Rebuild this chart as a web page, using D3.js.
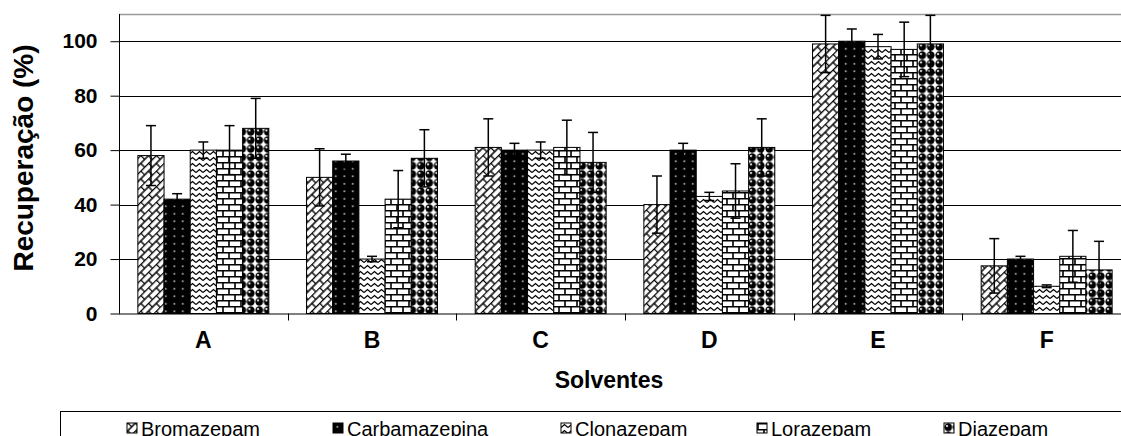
<!DOCTYPE html>
<html>
<head>
<meta charset="utf-8">
<script src="https://cdn.jsdelivr.net/npm/d3@7"></script>
<style>
    body { margin: 0; background: #fff; }
    svg { display: block; font-family: "Liberation Sans", Arial, sans-serif; }
</style>
</head>
<body>
<div id="chart"></div>
<script>
const categories = ["A", "B", "C", "D", "E", "F"];
const series = ["Bromazepam", "Carbamazepina", "Clonazepam", "Lorazepam", "Diazepam"];

// mean recovery per solvent, one array per drug
const bromazepam = [58, 50, 61, 40, 99, 17.5];
const carbamazepina = [42, 56, 60, 60, 100, 20];
const clonazepam = [60, 20, 60, 43, 98, 10];
const lorazepam = [60, 42, 61, 45, 97, 21];
const diazepam = [68, 57, 55.5, 61, 99, 16];

// standard deviations
const bromazepamErr = [11, 10.5, 10.5, 10.5, 10.5, 10];
const carbamazepinaErr = [2, 2.5, 2.5, 2.5, 4.5, 1];
const clonazepamErr = [3, 1, 3, 1.5, 4.5, 0.5];
const lorazepamErr = [9, 10.5, 10, 10, 10, 9.5];
const diazepamErr = [11, 10.5, 11, 10.5, 10.5, 10.5];

const yTicks = [0, 20, 40, 60, 80, 100];

const values = [bromazepam, carbamazepina, clonazepam, lorazepam, diazepam];
const errors = [bromazepamErr, carbamazepinaErr, clonazepamErr, lorazepamErr, diazepamErr];

const W = 1121, H = 436;
const plot = {left: 119, right: 1131, top: 14, bottom: 313.5};

let svg = d3.select("#chart").append("svg")
    .attr("width", W)
    .attr("height", H);

// fill patterns
let defs = svg.append("defs");

let p0 = defs.append("pattern").attr("id", "pat0")
    .attr("patternUnits", "userSpaceOnUse")
    .attr("width", 11).attr("height", 11)
    .attr("patternTransform", "rotate(-45)");
p0.append("rect").attr("width", 11).attr("height", 11).attr("fill", "#fff");
p0.append("path")
    .attr("d", "M0,0.5H11M0,6H11M0.5,0V5.5M6,5.5V11")
    .attr("stroke", "#000").attr("stroke-width", 1.4).attr("fill", "none");

let p1 = defs.append("pattern").attr("id", "pat1")
    .attr("patternUnits", "userSpaceOnUse")
    .attr("width", 8.5).attr("height", 7.5);
p1.append("rect").attr("width", 8.5).attr("height", 7.5).attr("fill", "#000");
p1.append("rect").attr("x", 3.5).attr("y", 3).attr("width", 1.6).attr("height", 1.6).attr("fill", "#ccc");

let p2 = defs.append("pattern").attr("id", "pat2")
    .attr("patternUnits", "userSpaceOnUse")
    .attr("width", 7).attr("height", 6);
p2.append("rect").attr("width", 7).attr("height", 6).attr("fill", "#fff");
p2.append("path")
    .attr("d", "M0,4.5L3.5,1.5L7,4.5")
    .attr("stroke", "#000").attr("stroke-width", 1.3).attr("fill", "none");

let p3 = defs.append("pattern").attr("id", "pat3")
    .attr("patternUnits", "userSpaceOnUse")
    .attr("width", 12).attr("height", 12);
p3.append("rect").attr("width", 12).attr("height", 12).attr("fill", "#fff");
p3.append("path")
    .attr("d", "M0,0.8H12M0,6.8H12M1,0V6.8M7,6.8V12")
    .attr("stroke", "#000").attr("stroke-width", 1.6).attr("fill", "none");

let p4 = defs.append("pattern").attr("id", "pat4")
    .attr("patternUnits", "userSpaceOnUse")
    .attr("width", 8.5).attr("height", 8.5);
p4.append("rect").attr("width", 8.5).attr("height", 8.5).attr("fill", "#fff");
p4.append("circle").attr("cx", 4.25).attr("cy", 4.25).attr("r", 3.9).attr("fill", "#000");
p4.append("circle").attr("cx", 3).attr("cy", 3).attr("r", 1.1).attr("fill", "#fff");

const fills = series.map((s, i) => "url(#pat" + i + ")");

// scales
let x = d3.scaleBand()
    .domain(categories)
    .range([plot.left, plot.right])
    .paddingInner(0)
    .paddingOuter(0);

let xs = d3.scaleBand()
    .domain(series)
    .range([0, x.bandwidth()])
    .paddingInner(0)
    .paddingOuter(0.72);

let y = d3.scaleLinear()
    .domain([0, 110])
    .range([plot.bottom, plot.top]);

// grid
svg.append("g")
    .selectAll("line")
    .data(yTicks.slice(1))
    .join("line")
    .attr("x1", plot.left).attr("x2", plot.right)
    .attr("y1", d => Math.round(y(d)) + 0.5)
    .attr("y2", d => Math.round(y(d)) + 0.5)
    .attr("stroke", "#000");

svg.append("line")
    .attr("x1", plot.left).attr("x2", plot.right)
    .attr("y1", y(110) + 0.5).attr("y2", y(110) + 0.5)
    .attr("stroke", "#999").attr("stroke-width", 1.5);

// bars
let groups = svg.append("g")
    .selectAll("g")
    .data(series)
    .join("g")
    .attr("fill", (d, i) => fills[i]);

groups.selectAll("rect")
    .data((s, i) => categories.map((c, j) => ({c: c, s: s, v: values[i][j], e: errors[i][j]})))
    .join("rect")
    .attr("x", d => x(d.c) + xs(d.s))
    .attr("y", d => y(d.v))
    .attr("width", xs.bandwidth())
    .attr("height", d => y(0) - y(d.v))
    .attr("stroke", "#000")
    .attr("stroke-width", 1);

// error bars
let eb = svg.append("g")
    .attr("stroke", "#000")
    .attr("stroke-width", 1.5);

series.forEach((s, i) => {
    categories.forEach((c, j) => {
        let cx = x(c) + xs(s) + xs.bandwidth() / 2;
        let v = values[i][j], e = errors[i][j];
        eb.append("line")
            .attr("x1", cx).attr("x2", cx)
            .attr("y1", y(v - e)).attr("y2", y(v + e));
        eb.append("line")
            .attr("x1", cx - 5).attr("x2", cx + 5)
            .attr("y1", y(v + e)).attr("y2", y(v + e));
        eb.append("line")
            .attr("x1", cx - 5).attr("x2", cx + 5)
            .attr("y1", y(v - e)).attr("y2", y(v - e));
    });
});

// y axis
let yAxis = svg.append("g")
    .attr("transform", "translate(" + (plot.left + 0.5) + ",0)")
    .call(d3.axisLeft(y)
        .tickValues(yTicks)
        .tickSizeInner(9)
        .tickSizeOuter(0)
        .tickPadding(13)
    );
yAxis.select(".domain").attr("stroke", "#000").attr("d", "M0," + plot.top + "V" + plot.bottom);
yAxis.selectAll(".tick line").attr("stroke", "#000");
yAxis.selectAll("text")
    .attr("fill", "#000")
    .attr("font-size", "21px")
    .attr("font-weight", "bold")
    .attr("font-family", '"Liberation Sans", Arial, sans-serif');

// x axis
let xAxis = svg.append("g")
    .attr("transform", "translate(0," + (plot.bottom + 0.5) + ")")
    .call(d3.axisBottom(x)
        .tickSize(0)
        .tickPadding(18)
    );
xAxis.select(".domain").attr("stroke", "#000").attr("d", "M" + plot.left + ",0H" + plot.right);
xAxis.selectAll("text")
    .attr("fill", "#000")
    .attr("font-size", "23px")
    .attr("font-weight", "bold")
    .attr("font-family", '"Liberation Sans", Arial, sans-serif');

// category separators
svg.append("g")
    .selectAll("line")
    .data(categories.slice(1))
    .join("line")
    .attr("x1", d => Math.round(x(d)) + 0.5)
    .attr("x2", d => Math.round(x(d)) + 0.5)
    .attr("y1", plot.bottom)
    .attr("y2", plot.bottom + 7)
    .attr("stroke", "#000");

// titles
svg.append("text")
    .attr("x", 609)
    .attr("y", 388)
    .attr("text-anchor", "middle")
    .attr("font-size", "23px")
    .attr("font-weight", "bold")
    .text("Solventes");

svg.append("text")
    .attr("transform", "translate(33," + 158 + ") rotate(-90)")
    .attr("text-anchor", "middle")
    .attr("font-size", "28px")
    .attr("font-weight", "bold")
    .text("Recuperação (%)");

// legend (cut by the bottom edge, as in the source image)
svg.append("rect")
    .attr("x", 60.5).attr("y", 411.5)
    .attr("width", 1100).attr("height", 40)
    .attr("fill", "#fff")
    .attr("stroke", "#000");

const legendX = [127, 333, 561, 757, 944];
let leg = svg.append("g")
    .selectAll("g")
    .data(series)
    .join("g")
    .attr("transform", (d, i) => "translate(" + legendX[i] + ",423)");

leg.append("rect")
    .attr("width", 10).attr("height", 10)
    .attr("fill", (d, i) => fills[i])
    .attr("stroke", "#000");

leg.append("text")
    .attr("x", 14)
    .attr("y", 13)
    .attr("font-size", "20px")
    .text(d => d);
</script>
</body>
</html>
